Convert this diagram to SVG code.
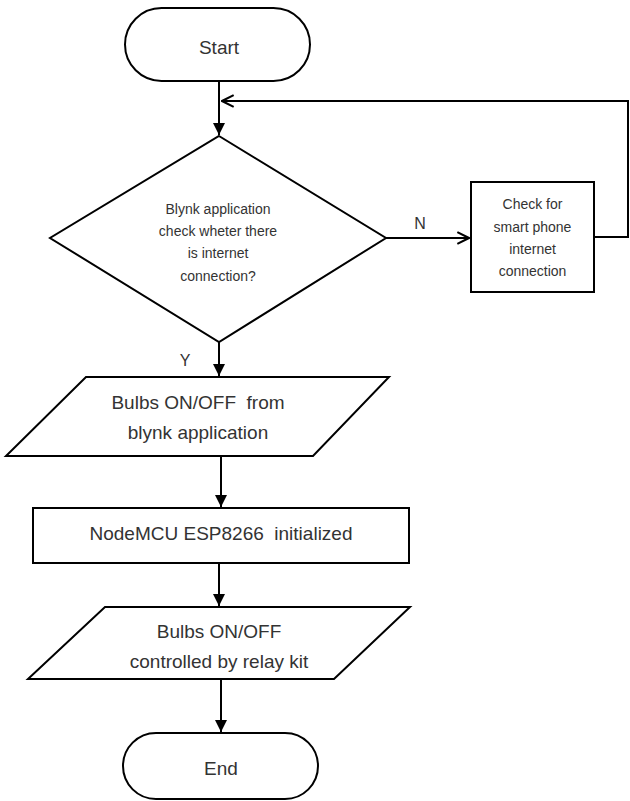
<svg xmlns="http://www.w3.org/2000/svg" width="630" height="801" viewBox="0 0 630 801">
<style>
.s{fill:#fff;stroke:#000;stroke-width:2}
.c{fill:none;stroke:#000;stroke-width:2}
text{font-family:"Liberation Sans",Arial,sans-serif;fill:#333;text-anchor:middle}
.t14{font-size:14px}
.t19{font-size:19px}
.t16{font-size:16px}
</style>
<defs>
<marker id="fill" markerWidth="12" markerHeight="12" refX="10" refY="5" orient="auto" markerUnits="userSpaceOnUse" viewBox="0 0 10 10">
<path d="M0,0 L10,5 L0,10 Z" fill="#000"/>
</marker>
<marker id="open" markerWidth="14" markerHeight="14" refX="11" refY="6" orient="auto" markerUnits="userSpaceOnUse" viewBox="0 0 12 12">
<path d="M1,1 L11,6 L1,11" fill="none" stroke="#000" stroke-width="1.8"/>
</marker>
</defs>
<g id="connectors">
<line class="c" x1="219" y1="81" x2="219" y2="135" marker-end="url(#fill)"/>
<polyline class="c" points="594,237 628,237 628,101 222,101" marker-end="url(#open)"/>
<line class="c" x1="386" y1="238" x2="469" y2="238" marker-end="url(#open)"/>
<line class="c" x1="219" y1="342" x2="219" y2="376" marker-end="url(#fill)"/>
<line class="c" x1="221" y1="456" x2="221" y2="507" marker-end="url(#fill)"/>
<line class="c" x1="219" y1="563" x2="219" y2="606" marker-end="url(#fill)"/>
<line class="c" x1="221" y1="679" x2="221" y2="732" marker-end="url(#fill)"/>
<text class="t16" x="420" y="229">N</text>
<text class="t16" x="185" y="366">Y</text>
</g>
<g id="start">
<rect class="s" x="125" y="8" width="185" height="73" rx="36.5"/>
<text class="t19" x="219" y="54">Start</text>
</g>
<g id="decision">
<polygon class="s" points="219,136 386,238 219,342 50,238"/>
<text class="t14" x="218" y="214">Blynk application</text>
<text class="t14" x="218" y="236">check wheter there</text>
<text class="t14" x="218" y="258">is internet</text>
<text class="t14" x="218" y="281">connection?</text>
</g>
<g id="check">
<rect class="s" x="471" y="182" width="123" height="110"/>
<text class="t14" x="532.5" y="209">Check for</text>
<text class="t14" x="532.5" y="232">smart phone</text>
<text class="t14" x="532.5" y="254">internet</text>
<text class="t14" x="532.5" y="276">connection</text>
</g>
<g id="bulbs1">
<polygon class="s" points="86,377 389,377 313,456 6,456"/>
<text class="t19" x="198" y="409" xml:space="preserve">Bulbs ON/OFF  from</text>
<text class="t19" x="198" y="439">blynk application</text>
</g>
<g id="nodemcu">
<rect class="s" x="33" y="508" width="376" height="55"/>
<text class="t19" x="221" y="540" xml:space="preserve">NodeMCU ESP8266  initialized</text>
</g>
<g id="bulbs2">
<polygon class="s" points="105,607 410,607 334,679 28,679"/>
<text class="t19" x="219" y="638">Bulbs ON/OFF</text>
<text class="t19" x="219" y="668">controlled by relay kit</text>
</g>
<g id="end">
<rect class="s" x="123" y="733" width="195" height="66" rx="33"/>
<text class="t19" x="221" y="775">End</text>
</g>
</svg>
